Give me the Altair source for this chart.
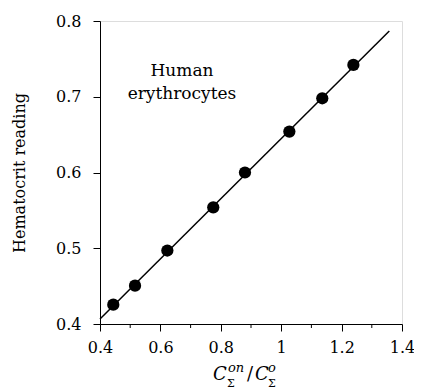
import altair as alt
import pandas as pd

ratio = [0.444, 0.516, 0.623, 0.775, 0.880, 1.027, 1.136, 1.239]
hematocrit = [0.4255, 0.4506, 0.497, 0.554, 0.600, 0.654, 0.698, 0.742]
fit_x = [0.40, 1.358]
fit_y = [0.4066, 0.7867]
x_major = [0.4, 0.6, 0.8, 1.0, 1.2, 1.4]
x_minor = [0.5, 0.7, 0.9, 1.1, 1.3]
y_ticks = [0.4, 0.5, 0.6, 0.7, 0.8]

FONT = "DejaVu Serif"
W, H = 302, 303

pts = pd.DataFrame({"x": ratio, "y": hematocrit})
fit = pd.DataFrame({"x": fit_x, "y": fit_y})
minor = pd.DataFrame({"x": x_minor})

xscale = alt.Scale(domain=[0.4, 1.4], nice=False, zero=False)
yscale = alt.Scale(domain=[0.4, 0.8], nice=False, zero=False)

xaxis = alt.Axis(values=x_major, format="~g", title=None, grid=False,
                 labelFont=FONT, labelFontSize=16, labelColor="black",
                 domainColor="black", tickColor="black", tickSize=7,
                 labelFlush=False, labelPadding=8)
yaxis = alt.Axis(values=y_ticks, format="~g", title="Hematocrit reading", grid=False,
                 labelFont=FONT, labelFontSize=16, labelColor="black",
                 domainColor="black", tickColor="black", tickSize=7,
                 labelFlush=False,
                 titleFont=FONT, titleFontSize=16, titleFontWeight="normal",
                 titleColor="black", titlePadding=28, labelPadding=12)

line = alt.Chart(fit).mark_line(color="black", strokeWidth=1.5).encode(
    x=alt.X("x:Q", scale=xscale, axis=xaxis),
    y=alt.Y("y:Q", scale=yscale, axis=yaxis),
)
dots = alt.Chart(pts).mark_circle(color="black", opacity=1, size=150).encode(
    x=alt.X("x:Q", scale=xscale),
    y=alt.Y("y:Q", scale=yscale),
)
minor_ticks = alt.Chart(minor).mark_rule(color="black", strokeWidth=1).encode(
    x=alt.X("x:Q", scale=xscale),
    y=alt.value(H), y2=alt.value(H + 4),
)

label = alt.Chart(pd.DataFrame({"t": [["Human", "erythrocytes"]]})).mark_text(
    font=FONT, fontSize=17, color="black", align="center", baseline="alphabetic", lineHeight=23
).encode(x=alt.value(82), y=alt.value(55), text="t")

# x-axis title C_Σ^on / C_Σ^o built from pieces
pieces = [
    ("C", 113, 359, 18, "italic"),
    ("on", 128, 351, 13, "italic"),
    ("Σ", 127, 366, 11, "normal"),
    ("/", 147, 359, 18, "normal"),
    ("C", 155, 359, 18, "italic"),
    ("o", 168, 351, 13, "italic"),
    ("Σ", 168, 366, 11, "normal"),
]
title_layers = [
    alt.Chart(pd.DataFrame({"t": [t]})).mark_text(
        font=FONT, fontSize=fs, fontStyle=st, color="black", align="left", baseline="alphabetic"
    ).encode(x=alt.value(px), y=alt.value(py), text="t")
    for t, px, py, fs, st in pieces
]

chart = alt.layer(line, dots, minor_ticks, label, *title_layers).properties(
    width=W, height=H,
    autosize=alt.AutoSizeParams(type="none"),
    padding={"left": 92, "top": 13, "right": 12, "bottom": 68},
).configure_view(stroke="black", strokeWidth=1).configure(background="white")

chart.save("out.html", embed_options={"renderer": "svg", "actions": False})
